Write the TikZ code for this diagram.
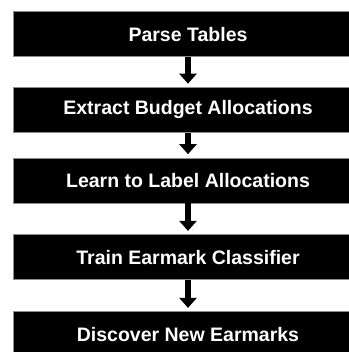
\documentclass[tikz,border=0pt]{standalone}
\usepackage{fontspec}
\setmainfont{Liberation Sans}
\usetikzlibrary{arrows.meta}
\begin{document}
\begin{tikzpicture}[x=1pt,y=1pt,
    stage/.style={fill=black, draw=black!45, line width=0.6pt, text=white,
      font=\fontsize{19.5}{22}\selectfont\bfseries,
      minimum width=350pt, minimum height=45pt, inner sep=0pt},
    flow/.style={line width=6pt, -{Triangle[width=17pt,length=10pt]}, shorten >=3.5pt}]
    \useasboundingbox (0,0) rectangle (348,-352);
    \node [stage] (parse) at (188,-34.2) {Parse Tables};
    \node [stage] (extract) at (188,-110) {Extract Budget Allocations};
    \node [stage] (learn) at (188,-180.5) {Learn to Label Allocations};
    \node [stage] (train) at (188,-257.2) {Train Earmark Classifier};
    \node [stage] (discover) at (188,-334.2) {Discover New Earmarks};
    \draw [flow] (parse) -- (extract);
    \draw [flow] (extract) -- (learn);
    \draw [flow] (learn) -- (train);
    \draw [flow] (train) -- (discover);
\end{tikzpicture}
\end{document}
